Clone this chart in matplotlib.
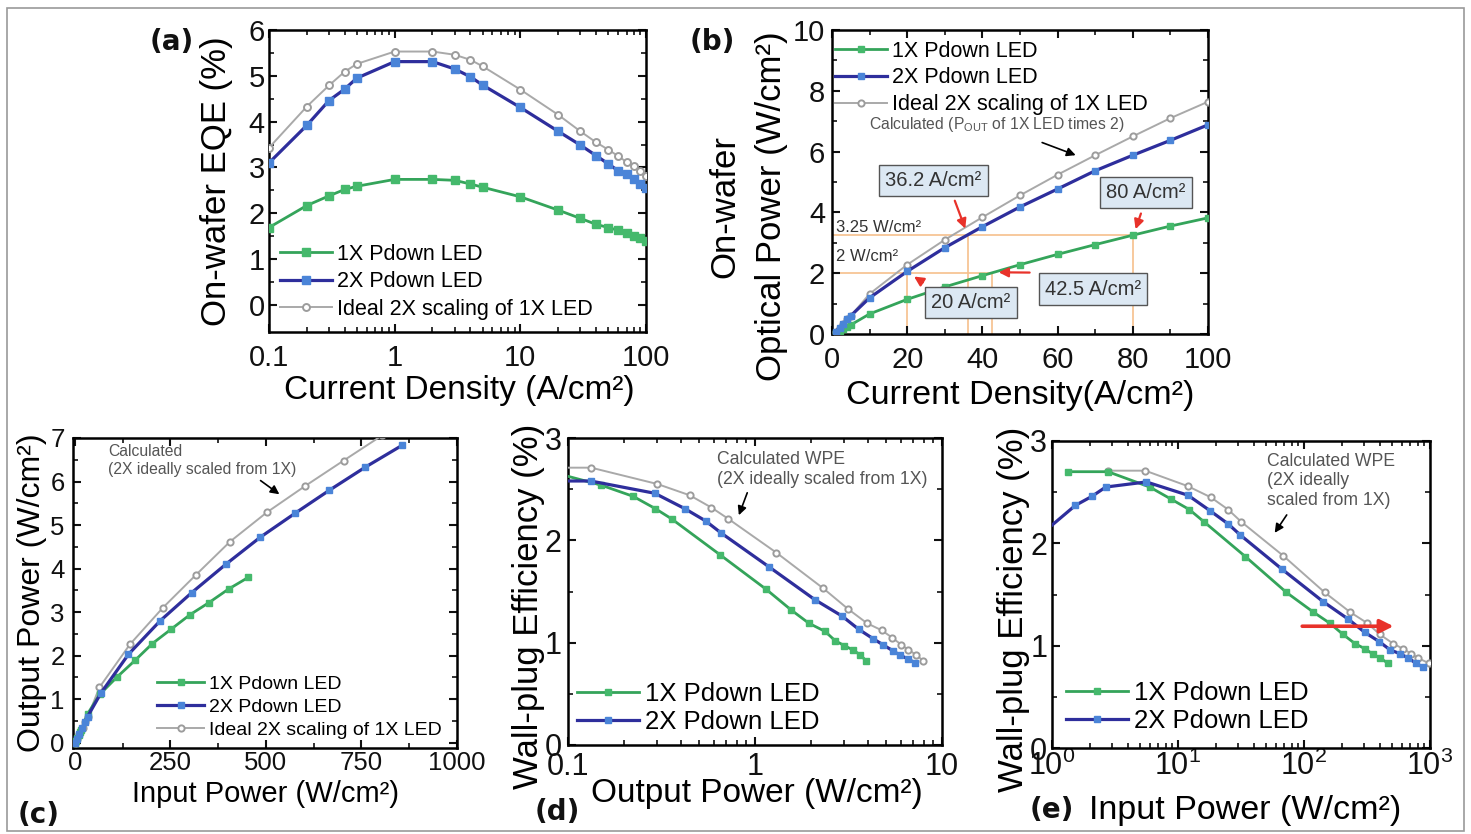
import matplotlib
matplotlib.use("Agg")
import matplotlib.pyplot as plt
from matplotlib.patches import Rectangle
from matplotlib.ticker import FixedLocator, MultipleLocator, LogLocator, NullFormatter

plt.rcParams["font.family"] = ["Liberation Sans", "DejaVu Sans"]
plt.rcParams["mathtext.fontset"] = "custom"
plt.rcParams["mathtext.rm"] = "Liberation Sans"
plt.rcParams["mathtext.it"] = "Liberation Sans:italic"
plt.rcParams["mathtext.bf"] = "Liberation Sans:bold"
plt.rcParams["mathtext.default"] = "regular"

W, H = 1471, 834

GREEN, GREEN_MK = "#34a45a", "#45b96c"
BLUE, BLUE_MK = "#2e2e9c", "#4a84d8"
GRAY, GRAY_MK = "#a9a9a9", "#9c9c9c"
ORANGE = "#f6c08c"
RED = "#e8322a"

LABELS = ["1X Pdown LED", "2X Pdown LED", "Ideal 2X scaling of 1X LED"]

# (a) EQE vs current density
j_a = [0.1, 0.2, 0.3, 0.4, 0.5, 1, 2, 3, 4, 5, 10, 20, 30, 40, 50, 60, 70, 80, 90, 100]
eqe_1x = [1.69, 2.17, 2.38, 2.52, 2.59, 2.74, 2.74, 2.72, 2.64, 2.57, 2.36, 2.07, 1.89, 1.76, 1.69, 1.63, 1.56, 1.51, 1.47, 1.40]
eqe_2x = [3.10, 3.92, 4.46, 4.71, 4.95, 5.31, 5.31, 5.15, 4.98, 4.80, 4.31, 3.79, 3.49, 3.26, 3.08, 2.93, 2.85, 2.74, 2.64, 2.56]
eqe_ideal = [3.43, 4.33, 4.79, 5.09, 5.26, 5.53, 5.53, 5.46, 5.35, 5.21, 4.70, 4.15, 3.79, 3.55, 3.39, 3.25, 3.12, 3.03, 2.92, 2.81]

# (b) optical power vs current density
j_b = [1, 2, 3, 4, 5, 10, 20, 30, 40, 50, 60, 70, 80, 90, 100]
pb_1x = [0.04, 0.10, 0.17, 0.24, 0.30, 0.66, 1.14, 1.55, 1.92, 2.28, 2.62, 2.94, 3.25, 3.55, 3.82]
pb_2x = [0.08, 0.21, 0.34, 0.48, 0.60, 1.19, 2.06, 2.84, 3.53, 4.18, 4.77, 5.37, 5.88, 6.37, 6.88]
pb_ideal = [0.08, 0.20, 0.34, 0.48, 0.60, 1.32, 2.28, 3.10, 3.84, 4.56, 5.24, 5.88, 6.50, 7.10, 7.64]

# (c) output power vs input power
pin_c_1x = [0, 3, 6, 10, 13, 17, 33, 65, 109, 157, 203, 252, 301, 351, 402, 454]
pout_c_1x = [0, 0.04, 0.10, 0.17, 0.24, 0.30, 0.66, 1.11, 1.50, 1.89, 2.28, 2.61, 2.94, 3.22, 3.53, 3.80]
pin_c_2x = [0, 6, 12, 19, 26, 33, 68, 140, 223, 306, 395, 485, 576, 666, 760, 856]
pout_c_2x = [0, 0.08, 0.21, 0.34, 0.48, 0.60, 1.14, 2.03, 2.80, 3.45, 4.10, 4.72, 5.27, 5.80, 6.33, 6.83]
pin_c_ideal = [0, 6, 12, 20, 26, 34, 64, 144, 230, 316, 406, 502, 603, 703, 804, 908]
pout_c_ideal = [0, 0.08, 0.20, 0.34, 0.48, 0.60, 1.27, 2.26, 3.10, 3.85, 4.62, 5.29, 5.90, 6.48, 7.06, 7.60]

# (d) WPE vs output power
pout_d_1x = [0.085, 0.15, 0.223, 0.293, 0.358, 0.649, 1.15, 1.56, 1.94, 2.37, 2.68, 3.01, 3.33, 3.66, 3.94]
wpe_d_1x = [2.66, 2.54, 2.43, 2.31, 2.21, 1.86, 1.52, 1.32, 1.19, 1.11, 1.02, 0.97, 0.93, 0.88, 0.82]
pout_d_2x = [0.085, 0.132, 0.291, 0.421, 0.544, 0.661, 1.19, 2.09, 2.92, 3.59, 4.27, 4.83, 5.47, 5.93, 6.6, 7.2]
wpe_d_2x = [2.58, 2.58, 2.46, 2.31, 2.19, 2.07, 1.74, 1.42, 1.26, 1.13, 1.04, 0.98, 0.92, 0.88, 0.84, 0.80]
pout_d_ideal = [0.085, 0.133, 0.301, 0.448, 0.585, 0.72, 1.3, 2.32, 3.14, 3.97, 4.77, 5.4, 6.06, 6.6, 7.3, 7.95]
wpe_d_ideal = [2.71, 2.71, 2.55, 2.44, 2.32, 2.21, 1.88, 1.53, 1.33, 1.19, 1.12, 1.05, 0.98, 0.93, 0.88, 0.82]

# (e) WPE vs input power
pin_e_1x = [1.34, 2.78, 5.97, 8.87, 12.3, 16.1, 34.3, 72.6, 118, 160, 204, 254, 304, 350, 400, 462]
wpe_e_1x = [2.70, 2.70, 2.55, 2.43, 2.33, 2.21, 1.87, 1.52, 1.33, 1.22, 1.11, 1.02, 0.97, 0.92, 0.88, 0.83]
pin_e_2x = [0.9, 1.53, 2.08, 2.67, 5.61, 12.0, 17.9, 25.0, 31.3, 66.5, 142, 224, 304, 395, 481, 580, 670, 770, 880]
wpe_e_2x = [2.13, 2.37, 2.46, 2.55, 2.60, 2.47, 2.32, 2.19, 2.08, 1.75, 1.43, 1.26, 1.13, 1.04, 0.96, 0.92, 0.88, 0.83, 0.79]
pin_e_ideal = [2.78, 5.5, 11.9, 18.2, 25, 31.8, 68.2, 146, 231, 318, 400, 510, 610, 712, 800, 975]
wpe_e_ideal = [2.71, 2.71, 2.56, 2.45, 2.33, 2.21, 1.88, 1.52, 1.33, 1.22, 1.11, 1.02, 0.97, 0.92, 0.88, 0.83]


def px_axes(fig, left, top, right, bottom):
    return fig.add_axes([left / W, 1 - bottom / H, (right - left) / W, (bottom - top) / H])


def style_axes(ax, tick_size, xpad, ypad):
    for sp in ax.spines.values():
        sp.set_linewidth(1.8)
    ax.tick_params(which="both", direction="in", top=True, right=True, colors="#111111")
    ax.tick_params(which="major", length=6, width=1.5, labelsize=tick_size)
    ax.tick_params(which="minor", length=3.5, width=1.2)
    ax.tick_params(axis="x", which="major", pad=xpad)
    ax.tick_params(axis="y", which="major", pad=ypad)


def plot_three(ax, x1, y1, x2, y2, x3=None, y3=None, ms=5.5):
    h1, = ax.plot(x1, y1, color=GREEN, lw=2.0, marker="s", ms=ms, mfc=GREEN_MK, mec=GREEN_MK, zorder=4)
    h2, = ax.plot(x2, y2, color=BLUE, lw=2.3, marker="s", ms=ms, mfc=BLUE_MK, mec=BLUE_MK, zorder=5)
    handles = [h1, h2]
    if x3 is not None:
        h3, = ax.plot(x3, y3, color=GRAY, lw=1.4, marker="o", ms=ms - 0.5, mfc="white",
                      mec=GRAY_MK, mew=1.4, zorder=3)
        handles.append(h3)
    return handles


def add_legend(ax, handles, loc, anchor, size, spacing):
    ax.legend(handles, LABELS[:len(handles)], loc=loc, bbox_to_anchor=anchor, frameon=False,
              fontsize=size, handlelength=2.4, handletextpad=0.25, labelspacing=spacing,
              borderpad=0, borderaxespad=0, numpoints=1)


def black_note(ax, text, xy_text, tail, tip, size, ha="left"):
    ax.text(xy_text[0], xy_text[1], text, fontsize=size, color="#555555", ha=ha, va="center",
            linespacing=1.2, zorder=6)
    ax.annotate("", xy=tip, xytext=tail,
                arrowprops=dict(arrowstyle="-|>", color="black", lw=1.2, mutation_scale=13), zorder=6)


def main() -> None:
    fig = plt.figure(figsize=(W / 100, H / 100), dpi=100)
    fig.patches.append(Rectangle((7 / W, 3 / H), 1457 / W, 823 / H, transform=fig.transFigure,
                                 fill=False, ec="#9a9a9a", lw=1.2))

    # ---- (a)
    ax = px_axes(fig, 269, 30, 646, 332)
    hs = plot_three(ax, j_a, eqe_1x, j_a, eqe_2x, j_a, eqe_ideal)
    ax.set_xscale("log")
    ax.set_xlim(0.1, 100)
    ax.set_ylim(-0.59, 6.0)
    ax.xaxis.set_major_locator(FixedLocator([0.1, 1, 10, 100]))
    ax.set_xticklabels(["0.1", "1", "10", "100"])
    ax.xaxis.set_minor_locator(LogLocator(subs=range(2, 10)))
    ax.xaxis.set_minor_formatter(NullFormatter())
    ax.set_yticks(range(0, 7))
    ax.yaxis.set_minor_locator(FixedLocator([0.5, 1.5, 2.5, 3.5, 4.5, 5.5]))
    style_axes(ax, 21, 8.5, 3)
    ax.set_xlabel("Current Density (A/cm²)", fontsize=24, va="top")
    ax.xaxis.set_label_coords(0.504, -0.142)
    ax.set_ylabel("On-wafer EQE (%)", fontsize=25)
    ax.yaxis.set_label_coords(-0.095, 0.5)
    add_legend(ax, hs, "lower left", (0.03, 0.04), 15.5, 0.3)

    # ---- (b)
    ax = px_axes(fig, 832, 30, 1208, 334)
    hs = plot_three(ax, j_b, pb_1x, j_b, pb_2x, j_b, pb_ideal, ms=5)
    ax.set_xlim(0, 100)
    ax.set_ylim(0, 10)
    ax.xaxis.set_major_locator(MultipleLocator(20))
    ax.xaxis.set_minor_locator(MultipleLocator(10))
    ax.yaxis.set_major_locator(MultipleLocator(2))
    ax.yaxis.set_minor_locator(MultipleLocator(1))
    style_axes(ax, 21, 9, 5)
    ax.set_xlabel("Current Density(A/cm²)", fontsize=24.5, va="top")
    ax.xaxis.set_label_coords(0.5, -0.151)
    ax.set_ylabel("Optical Power (W/cm²)", fontsize=25)
    ax.yaxis.set_label_coords(-0.118, 0.42)
    ax.text(-0.285, 0.42, "On-wafer", transform=ax.transAxes, rotation=90, fontsize=25,
            ha="center", va="center")
    add_legend(ax, hs, "upper left", (0.008, 0.965), 15.5, 0.27)

    guide = dict(color=ORANGE, lw=1.2, zorder=1)
    ax.plot([0, 80], [3.25, 3.25], **guide)
    ax.plot([0, 42.5], [2, 2], **guide)
    for xv, yv in [(20, 2), (36.2, 3.25), (42.5, 2), (80, 3.25)]:
        ax.plot([xv, xv], [0, yv], **guide)
    ax.text(1, 3.5, "3.25 W/cm²", fontsize=12, color="#333333", va="center")
    ax.text(1, 2.55, "2 W/cm²", fontsize=12, color="#333333", va="center")

    box = dict(boxstyle="square,pad=0.3", fc="#dce8f3", ec="#555555", lw=1.0)
    red = dict(arrowstyle="-|>", color=RED, lw=1.6, mutation_scale=14)
    for label, center, tail, tip in [
        ("36.2 A/cm²", (27, 5.05), (32.4, 4.47), (35.7, 3.38)),
        ("80 A/cm²", (83.5, 4.65), (82.4, 4.05), (80.5, 3.36)),
        ("20 A/cm²", (37, 1.04), (24.8, 1.65), (21.2, 1.94)),
        ("42.5 A/cm²", (69.5, 1.48), (53.3, 2.02), (43.6, 2.03)),
    ]:
        ax.text(center[0], center[1], label, fontsize=14.5, color="#333333", ha="center",
                va="center", bbox=box, zorder=7)
        ax.annotate("", xy=tip, xytext=tail, arrowprops=red, zorder=8)
    black_note(ax, "Calculated (P$_{OUT}$ of 1X LED times 2)", (44, 6.9), (55.2, 6.33),
               (65.5, 5.85), 11.3, ha="center")

    # ---- (c)
    ax = px_axes(fig, 73, 438, 457, 748)
    hs = plot_three(ax, pin_c_1x, pout_c_1x, pin_c_2x, pout_c_2x, pin_c_ideal, pout_c_ideal, ms=5)
    ax.set_xlim(-5, 1000)
    ax.set_ylim(-0.12, 7.0)
    ax.xaxis.set_major_locator(MultipleLocator(250))
    ax.xaxis.set_minor_locator(MultipleLocator(125))
    ax.set_yticks(range(0, 8))
    ax.yaxis.set_minor_locator(MultipleLocator(0.5))
    style_axes(ax, 18.5, 2, 6)
    ax.set_xlabel("Input Power (W/cm²)", fontsize=21, va="top")
    ax.xaxis.set_label_coords(0.5, -0.103)
    ax.set_ylabel("Output Power (W/cm²)", fontsize=23)
    ax.yaxis.set_label_coords(-0.068, 0.5)
    add_legend(ax, hs, "lower left", (0.22, 0.03), 14, 0.28)
    black_note(ax, "Calculated\n(2X ideally scaled from 1X)", (87, 6.48), (480, 6.06), (541, 5.67), 11.3)

    # ---- (d)
    ax = px_axes(fig, 568, 438, 942, 745)
    hs = plot_three(ax, pout_d_1x, wpe_d_1x, pout_d_2x, wpe_d_2x, pout_d_ideal, wpe_d_ideal, ms=5)
    ax.set_xscale("log")
    ax.set_xlim(0.1, 10)
    ax.set_ylim(0, 3)
    ax.xaxis.set_major_locator(FixedLocator([0.1, 1, 10]))
    ax.set_xticklabels(["0.1", "1", "10"])
    ax.xaxis.set_minor_locator(LogLocator(subs=range(2, 10)))
    ax.xaxis.set_minor_formatter(NullFormatter())
    ax.yaxis.set_major_locator(MultipleLocator(1))
    ax.yaxis.set_minor_locator(MultipleLocator(0.5))
    style_axes(ax, 22, 5, 4.5)
    ax.set_xlabel("Output Power (W/cm²)", fontsize=24, va="top")
    ax.xaxis.set_label_coords(0.505, -0.108)
    ax.set_ylabel("Wall-plug Efficiency (%)", fontsize=25)
    ax.yaxis.set_label_coords(-0.061, 0.45)
    add_legend(ax, hs[:2], "lower left", (0.024, 0.035), 18.5, 0.15)
    black_note(ax, "Calculated WPE\n(2X ideally scaled from 1X)", (0.624, 2.695), (0.92, 2.49),
               (0.81, 2.22), 12.7)

    # ---- (e)
    ax = px_axes(fig, 1052, 441, 1430, 748)
    hs = plot_three(ax, pin_e_1x, wpe_e_1x, pin_e_2x, wpe_e_2x, pin_e_ideal, wpe_e_ideal, ms=5)
    ax.set_xscale("log")
    ax.set_xlim(1, 1000)
    ax.set_ylim(0, 3)
    ax.xaxis.set_major_locator(LogLocator(base=10, numticks=10))
    ax.xaxis.set_minor_locator(LogLocator(subs=range(2, 10), numticks=10))
    ax.xaxis.set_minor_formatter(NullFormatter())
    ax.yaxis.set_major_locator(MultipleLocator(1))
    ax.yaxis.set_minor_locator(MultipleLocator(0.5))
    style_axes(ax, 22, 2, 3.5)
    ax.set_xlabel("Input Power (W/cm²)", fontsize=24.5, va="top")
    ax.xaxis.set_label_coords(0.51, -0.153)
    ax.set_ylabel("Wall-plug Efficiency (%)", fontsize=25)
    ax.yaxis.set_label_coords(-0.058, 0.45)
    add_legend(ax, hs[:2], "lower left", (0.037, 0.05), 18.5, 0.15)
    black_note(ax, "Calculated WPE\n(2X ideally\nscaled from 1X)", (51.3, 2.61), (75, 2.30),
               (56.9, 2.08), 12.7)
    ax.annotate("", xy=(540, 1.19), xytext=(92, 1.19),
                arrowprops=dict(arrowstyle="-|>", color=RED, lw=2.6, mutation_scale=20), zorder=8)

    # panel tags
    for tag, x, y in [("(a)", 150, 42), ("(b)", 690, 42), ("(c)", 18, 815), ("(d)", 535, 812),
                      ("(e)", 1030, 810)]:
        fig.text(x / W, 1 - y / H, tag, fontsize=20, fontweight="bold", family="DejaVu Sans",
                 ha="left", va="center", color="#111111")

    fig.savefig("out.png", dpi=100)
    plt.close(fig)


if __name__ == "__main__":
    main()
